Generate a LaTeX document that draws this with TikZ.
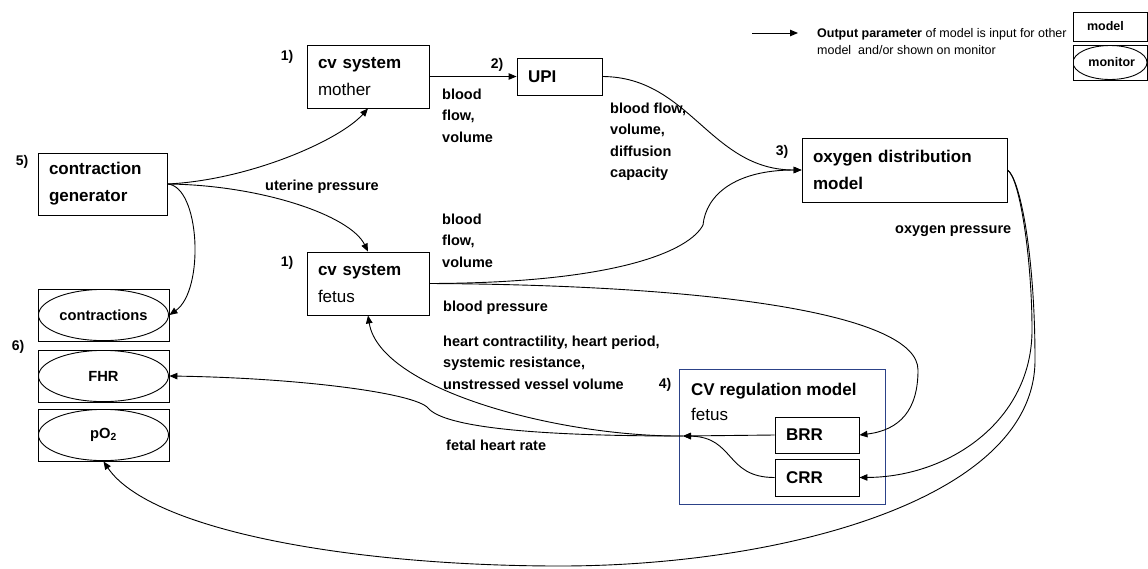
\documentclass[tikz,border=0pt]{standalone}
\usepackage{fontspec}
\setmainfont{Liberation Sans}
\usetikzlibrary{arrows.meta}

\definecolor{regblue}{RGB}{44,66,136}

\tikzset{
  model/.style={draw, line width=0.9pt, rectangle, align=left, inner xsep=11pt, inner ysep=0pt,
                font=\fontsize{17}{27}\selectfont},
  monitor/.style={draw, line width=0.9pt, rectangle, minimum width=131pt, minimum height=52pt, inner sep=0pt,
                  font=\bfseries\fontsize{14.7}{18}\selectfont,
                  path picture={\draw[line width=0.9pt] (path picture bounding box.center)
                                ellipse [x radius=65pt, y radius=25.6pt];}},
  lbl/.style={anchor=base west, align=left, inner sep=0pt, font=\bfseries\fontsize{14.5}{21.5}\selectfont},
  num/.style={inner sep=0pt, font=\bfseries\fontsize{14}{14}\selectfont},
  flow/.style={->, line width=0.9pt},
}

\begin{document}
\begin{tikzpicture}[x=1pt,y=-1pt,>={Triangle[length=8pt,width=6.5pt]}]
\useasboundingbox (0,0) rectangle (1148,568);

% models
\node[model, text width=107pt, minimum height=62pt] (gen) at (102.5,184) {\textbf{contraction}\\\textbf{generator}};
\node[model, text width=100pt, minimum height=63pt] (cvm) at (368,76.5) {\textbf{cv system}\\mother};
\node[model, text width=100pt, minimum height=63pt] (cvf) at (368,283.5) {\textbf{cv system}\\fetus};
\node[model, text width=63pt, minimum height=37pt] (upi) at (559.5,76.5) {\textbf{UPI}};
\node[model, text width=183pt, minimum height=64pt] (oxy) at (904.5,170) {\textbf{oxygen distribution}\\\textbf{model}};
\node[draw=regblue, line width=0.9pt, minimum width=206pt, minimum height=135pt] (reg) at (782,436.5) {};
\node[anchor=base west, align=left, inner sep=0pt, font=\fontsize{17}{25}\selectfont] (regtxt) at (691,420)
     {\textbf{CV regulation model}\\fetus};
\node[model, text width=62pt, minimum height=36pt] (brr) at (817,435) {\textbf{BRR}};
\node[model, text width=62pt, minimum height=37pt] (crr) at (817,477.5) {\textbf{CRR}};

% monitors
\node[monitor] (contr) at (103.5,315) {contractions};
\node[monitor] (fhr) at (103.5,376) {FHR};
\node[monitor] (po2) at (103.5,435) {pO\textsubscript{2}};

% numbers
\node[num] (n1a) at (287,57) {1)};
\node[num] (n1b) at (287,263) {1)};
\node[num] (n2) at (497,65) {2)};
\node[num] (n3) at (782,152) {3)};
\node[num] (n4) at (665,385) {4)};
\node[num] (n5) at (22,162) {5)};
\node[num] (n6) at (18,347) {6)};

% labels (base = last line)
\node[lbl] (lup) at (265,190) {uterine pressure};
\node[lbl] (lbfm) at (442,142) {blood\\flow,\\volume};
\node[lbl] (lbfu) at (610,177.5) {blood flow,\\volume,\\diffusion\\capacity};
\node[lbl] (lbff) at (442,267) {blood\\flow,\\volume};
\node[lbl] (lbp) at (443,311) {blood pressure};
\node[lbl] (lhc) at (443,389) {heart contractility, heart period,\\systemic resistance,\\unstressed vessel volume};
\node[lbl] (lfhr) at (446,450) {fetal heart rate};
\node[lbl] (lop) at (895,233) {oxygen pressure};

% legend
\coordinate (legA) at (752,33);
\coordinate (legB) at (798,33);
\draw[flow] (legA) -- (legB);
\node[anchor=base west, align=left, inner sep=0pt, font=\fontsize{12.5}{17}\selectfont] (legtxt) at (817,54.5)
     {\textbf{Output parameter} of model is input for other\\model\ \ and/or shown on monitor};
\node[draw, line width=0.9pt, minimum width=74pt, minimum height=29pt, text width=46pt, inner xsep=14pt,
      font=\bfseries\fontsize{12.5}{15}\selectfont] (legmodel) at (1110,26.5) {model};
\node[monitor, minimum width=74pt, minimum height=35pt, font=\bfseries\fontsize{12.5}{15}\selectfont,
      path picture={\draw[line width=0.9pt] (path picture bounding box.center)
                    ellipse [x radius=37pt, y radius=17pt];}] (legmon) at (1110,62.5) {\ monitor};

% connectors
\draw[flow] (gen.east) .. controls (250,180) and (340,140) .. (cvm.south);
\draw[flow] (gen.east) .. controls (260,185) and (350,215) .. (cvf.north);
\draw[flow] (gen.east) .. controls (200,186) and (205,290) .. (contr.east);
\draw[flow] (cvm.east) -- (upi.west);
\draw[flow] (upi.east) .. controls (690,77) and (710,170) .. (oxy.west);
\draw[flow] (cvf.east) .. controls (620,283) and (690,250) .. (703,225)
                       .. controls (706,195) and (735,170) .. (oxy.west);
\draw[flow] (cvf.east) .. controls (720,285) and (918,315) .. (918,370)
                       .. controls (918,410) and (900,430) .. (brr.east);
\draw[flow] (oxy.east) .. controls (1020,178) and (1032,260) .. (1032,330)
                       .. controls (1032,420) and (950,477) .. (crr.east);
\draw[flow] (oxy.east) .. controls (1020,178) and (1035,255) .. (1035,360)
                       .. controls (1035,500) and (780,566) .. (560,566)
                       .. controls (350,566) and (150,530) .. (po2.south);

\coordinate (hub) at (683,436);
\draw[flow] (brr.west) -- (hub);
\draw[flow] (crr.west) .. controls (725,477.5) and (735,437) .. (hub);
\draw[flow] (hub) .. controls (540,436) and (445,428) .. (428,408)
                  .. controls (415,393) and (300,378) .. (fhr.east);
\draw[flow] (hub) .. controls (560,437) and (380,390) .. (cvf.south);
\end{tikzpicture}
\end{document}
